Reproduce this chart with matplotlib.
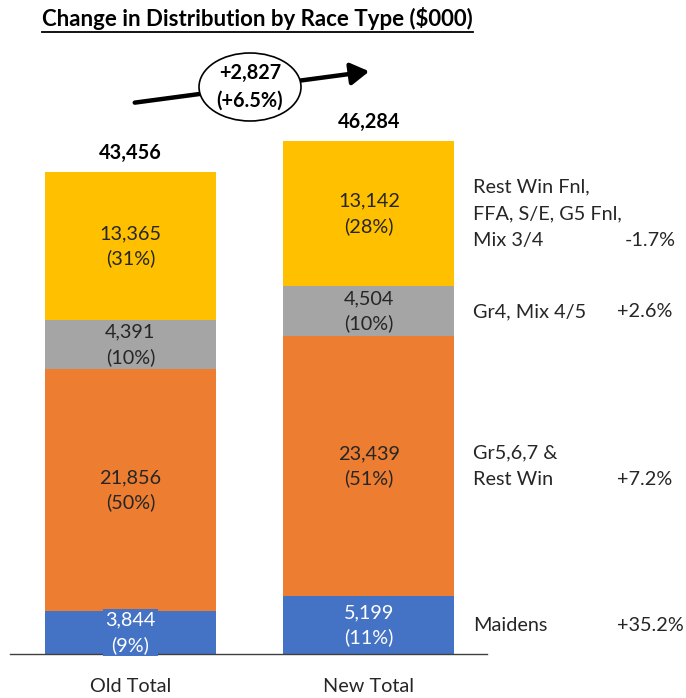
import matplotlib
matplotlib.use("Agg")
import matplotlib.pyplot as plt
import matplotlib.transforms as mtrans
from matplotlib.patches import Ellipse, FancyArrowPatch
from matplotlib.lines import Line2D
from matplotlib.transforms import blended_transform_factory

plt.rcParams['font.family'] = ['Lato', 'DejaVu Sans']

# ---- data ----
bars = ["Old Total", "New Total"]
segments = ["Maidens", "Gr5,6,7 &\nRest Win", "Gr4, Mix 4/5",
            "Rest Win Fnl,\nFFA, S/E, G5 Fnl,\nMix 3/4"]
old_values = [3844, 21856, 4391, 13365]
new_values = [5199, 23439, 4504, 13142]
seg_changes = ["+35.2%", "+7.2%", "+2.6%", "-1.7%"]
colors = ["#4472C4", "#ED7D31", "#A5A5A5", "#FFC000"]
text_colors = ["white", "#262626", "#262626", "#262626"]
total_change = "+2,827\n(+6.5%)"

W, H = 686, 698
FS = 14.3
fig = plt.figure(figsize=(W / 100, H / 100), dpi=100)
ax = fig.add_axes([10 / W, 44 / H, 477 / W, 654 / H])
px_per_unit = 482 / 43456
ax.set_xlim(-0.505, 1.495)
ax.set_ylim(0, 654 / px_per_unit)
for s in ["top", "right", "left"]:
    ax.spines[s].set_visible(False)
ax.spines["bottom"].set_color("#404040")
ax.spines["bottom"].set_linewidth(1.0)
ax.set_yticks([])
ax.set_xticks([0, 1])
ax.set_xticklabels(bars, fontsize=FS, color="#262626")
ax.tick_params(axis="x", length=0, pad=17)

width = 0.717
series = [old_values, new_values]
up = ax.transData + mtrans.ScaledTranslation(0, 9 / 100, fig.dpi_scale_trans)
for bi, vals in enumerate(series):
    total = sum(vals)
    bottom = 0
    for si, v in enumerate(vals):
        ax.bar(bi, v, width, bottom=bottom, color=colors[si], zorder=2)
        pct = round(100 * v / total)
        ax.text(bi, bottom + v / 2, f"{v:,}\n({pct}%)", ha="center", va="center",
                fontsize=FS, color=text_colors[si], linespacing=1.5, zorder=4,
                bbox=dict(boxstyle="square,pad=0.12", fc=colors[si], ec="none"),
                clip_on=False)
        bottom += v
    ax.text(bi, total, f"{total:,}", ha="center", va="bottom", fontsize=FS,
            fontweight="bold", color="black", zorder=4, transform=up)

# right-side labels at new segment centres, one line at a time
tr = blended_transform_factory(fig.transFigure, ax.transData)
line_h = 27 / px_per_unit
bottom = 0
for si, v in enumerate(new_values):
    c = bottom + v / 2
    lines = segments[si].split("\n")
    n = len(lines)
    for li, ln in enumerate(lines):
        y = c + ((n - 1) / 2 - li) * line_h
        ax.text(473 / W, y, ln, transform=tr, ha="left", va="center",
                fontsize=FS, color="#262626")
    ylast = c - (n - 1) / 2 * line_h
    xp = 625 if seg_changes[si].startswith("-") else 617
    ax.text(xp / W, ylast, seg_changes[si], transform=tr, ha="left", va="center",
            fontsize=FS, color="#262626")
    bottom += v

# title with underline
title = fig.text(257.5 / W, 1 - 19 / H, "Change in Distribution by Race Type ($000)",
                 ha="center", va="center", fontsize=16, fontweight="bold")
fig.canvas.draw()
bb = title.get_window_extent().transformed(fig.transFigure.inverted())
fig.add_artist(Line2D([bb.x0, bb.x1], [bb.y0 - 1 / H, bb.y0 - 1 / H],
                      transform=fig.transFigure, color="black", lw=1.3))

# growth arrow with ellipse
def fp(x, y):
    return (x / W, 1 - y / H)

arr = FancyArrowPatch(fp(132, 103), fp(372, 71), transform=fig.transFigure,
                      arrowstyle="-|>,head_length=5,head_width=3", lw=3.2,
                      color="black", mutation_scale=2.2)
fig.add_artist(arr)
ell = Ellipse(fp(250, 87), 102 / W, 68 / H, transform=fig.transFigure,
              fc="white", ec="black", lw=1.2, zorder=5)
fig.add_artist(ell)
fig.text(*fp(250, 87), total_change, ha="center", va="center", fontsize=FS,
         fontweight="bold", color="black", linespacing=1.45, zorder=6)

fig.savefig("out.png", dpi=100)
